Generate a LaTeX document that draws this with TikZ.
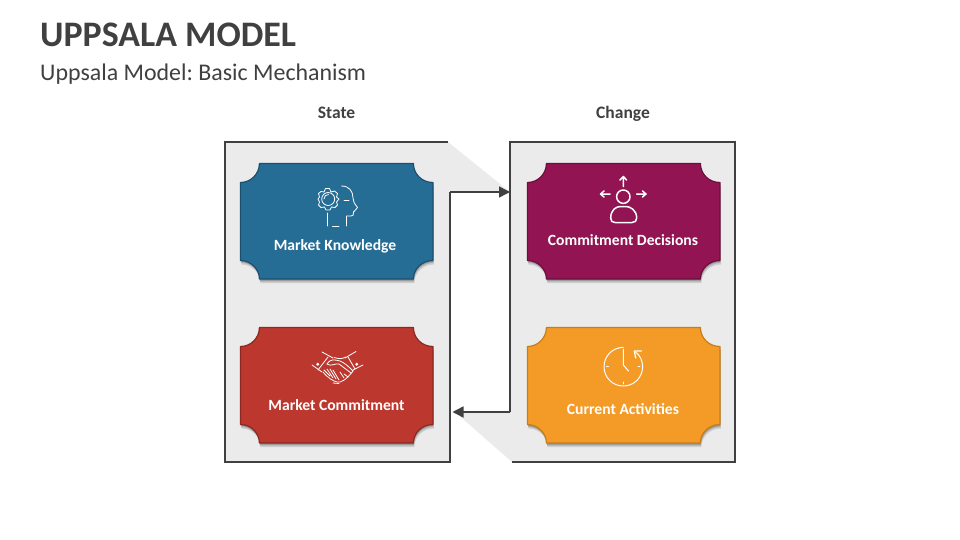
\documentclass[tikz,border=0pt]{standalone}
\usepackage{fontspec}
\setmainfont{Carlito}
\usetikzlibrary{arrows.meta}
\definecolor{ink}{HTML}{404040}
\definecolor{panelbg}{HTML}{EBEBEB}
\definecolor{cblue}{HTML}{266D96}
\definecolor{cbluedk}{HTML}{1C506F}
\definecolor{cred}{HTML}{BC372E}
\definecolor{creddk}{HTML}{8C2922}
\definecolor{cpurple}{HTML}{921453}
\definecolor{cpurpledk}{HTML}{6C0F3D}
\definecolor{corange}{HTML}{F39B26}
\definecolor{corangedk}{HTML}{C87D17}
\tikzset{
  x=1pt,y=-1pt,
  panelline/.style={draw=ink,line width=1.5pt},
  flow/.style={panelline,-{Triangle[length=11pt,width=11pt]}},
  head/.style={text=ink,font=\bfseries\fontsize{17.5}{20}\selectfont,anchor=base,inner sep=0},
  cardtext/.style={text=white,font=\bfseries\fontsize{15.6}{18}\selectfont,anchor=base,inner sep=0},
  icon/.style={draw=white,line width=0.8pt,line cap=round,line join=round},
  iconbold/.style={draw=white,line width=1.5pt,line cap=round,line join=round},
}
\newcommand{\cardpath}{(19,0) -- (173,0) .. controls (173,10.5) and (181.5,19) .. (192.5,19) -- (192.5,97) .. controls (181.5,97) and (173,105.5) .. (173,115.5) -- (19,115.5) .. controls (19,105.5) and (10.5,97) .. (0,97) -- (0,19) .. controls (10.5,19) and (19,10.5) .. (19,0) -- cycle}
\newcommand{\card}[4]{%
  \begin{scope}[shift={(#1,#2)}]
    \fill[black,opacity=.12] [shift={(1,4)}] \cardpath;
    \fill[black,opacity=.14] [shift={(0.6,2.5)}] \cardpath;
    \fill[black,opacity=.16] [shift={(0.3,1.5)}] \cardpath;
    \draw[fill=#3,draw=#4,line width=1.2pt,line join=round] \cardpath;
  \end{scope}}
\begin{document}
\frenchspacing
\begin{tikzpicture}
\useasboundingbox (0,0) rectangle (960,540);
\fill[white] (0,0) rectangle (960,540);
\node[anchor=west,text=ink,font=\bfseries\fontsize{35.9}{40}\selectfont,inner sep=0] (title) at (40,35) {UPPSALA MODEL};
\node[anchor=west,text=ink,font=\fontsize{23.9}{26}\selectfont,inner sep=0] (subtitle) at (40,74.5) {Uppsala Model: Basic Mechanism};
\node[head] (hstate) at (336.5,118.6) {State};
\node[head] (hchange) at (623,118.6) {Change};
% panels
\fill[panelbg] (225,142) -- (448,142) -- (510,192) -- (450,192) -- (450,462) -- (225,462) -- cycle;
\fill[panelbg] (510,142) -- (735,142) -- (735,462) -- (512,462) -- (455,412) -- (510,412) -- cycle;
\coordinate (stateout) at (450,192);
\coordinate (changein) at (510,192);
\coordinate (changeout) at (510,412);
\coordinate (statein) at (452.5,412);
\draw[panelline,line join=miter] (448,142) -- (225,142) -- (225,462) -- (450,462) -- (stateout);
\draw[panelline] (512,462) -- (735,462) -- (735,142) -- (510,142) -- (changeout);
\draw[flow] (stateout) -- (changein);
\draw[flow] (changeout) -- (statein);
% cards
\card{240.4}{163.5}{cblue}{cbluedk}
\card{240.4}{327.5}{cred}{creddk}
\card{527.4}{163.5}{cpurple}{cpurpledk}
\card{527.4}{327.5}{corange}{corangedk}
\node[cardtext] (mk) at (335,250) {Market Knowledge};
\node[cardtext] (mc) at (336.5,410) {Market Commitment};
\node[cardtext] (cd) at (623,245) {Commitment Decisions};
\node[cardtext] (ca) at (623,414) {Current Activities};
% head + gear icon
\draw[icon] (341.5,186) .. controls (349,186) and (353,191) .. (353,198) .. controls (353,201) and (354,203) .. (357.5,207.5) .. controls (356,210) and (354,211) .. (353.5,212) .. controls (354,215) and (353,216) .. (351,216) -- (346.5,216) -- (346.5,226);
\draw[icon] (327,213) -- (327,226);
\draw[icon] (332.5,226) -- (339,226);
\draw[icon] (344,200) -- (349,200);
\draw[icon] (318,199) -- (319.5,197) -- (318.5,193.5) -- (321,191.5) -- (324,192) -- (325.5,188.5) -- (329.5,188.5) -- (331,192) -- (334.5,191) -- (337.5,193.5) -- (336.5,197) -- (339,199) -- (336.5,202) -- (337.5,205) -- (335,207.5) -- (331.5,207) -- (330,210) -- (326,210) -- (324.5,207) -- (321,207.5) -- (318.5,205) -- (319.5,202) -- cycle;
\draw[icon] (328.2,199) circle (6.5);
\draw[icon] (324,199) .. controls (324,196) and (326,194.5) .. (328.5,194.5);
% handshake icon
\draw[icon] (322,352) -- (333,358);
\draw[icon] (312,365) -- (322,372);
\draw[icon] (328,357) -- (318,370);
\draw[icon] (356,351.5) -- (345,358);
\draw[icon] (363,365) -- (353,370);
\draw[icon] (348,357) -- (355,369);
\draw[icon] (334,357.5) .. controls (339,359) and (342,359) .. (346,357);
\draw[icon] (327,364) .. controls (331,358) and (335,360) .. (340,361) .. controls (345,363) and (349,367) .. (353,371);
\draw[icon] (327,364) .. controls (331,367) and (335,363) .. (339,364) -- (351,373);
\draw[icon] (323,372) .. controls (328,378) and (333,381) .. (337,382) .. controls (341,383) and (346,380) .. (353,371);
\draw[icon] (324,370) -- (330,376) (327,369) -- (333,378) (330,369) -- (336,379) (333,370) -- (339,380) (340,372) -- (344,378) (344,374) -- (348,377);
\draw[icon] (333,383) -- (339,383.5);
\fill[white] (317.7,364.3) circle (1.6) (356.7,364.3) circle (1.6);
% person icon
\draw[iconbold] (623.3,196.7) circle (6.7);
\draw[iconbold] (615,222.5) -- (632,222.5) .. controls (635,222.5) and (636.7,221) .. (636.7,218) .. controls (636.7,210) and (630,206.5) .. (626,206.5) -- (620.5,206.5) .. controls (616,206.5) and (610.7,210) .. (610.7,218) .. controls (610.7,221) and (612,222.5) .. (615,222.5) -- cycle;
\draw[iconbold] (623.3,186.5) -- (623.3,177) (620,180) -- (623.3,176.5) -- (626.6,180);
\draw[iconbold] (610,194) -- (601,194) (604,191) -- (600.5,194) -- (604,197);
\draw[iconbold] (636.7,194) -- (645.5,194) (642.5,191) -- (646,194) -- (642.5,197);
% clock icon
\draw[icon,line width=1pt] (623.3,347.4) .. controls (612.6,347.4) and (604,356) .. (604,366.7) .. controls (604,377.4) and (612.6,386) .. (623.3,386) .. controls (634,386) and (642.6,377.4) .. (642.6,366.7) .. controls (642.6,360.5) and (640,355.5) .. (635.5,352);
\draw[icon,line width=1.2pt] (641.5,351) -- (634.3,351) -- (635.7,358);
\draw[icon,line width=1pt] (623.3,349) -- (623.3,365) -- (628.5,371);
\draw[icon] (623.3,382) -- (623.3,384) (606.5,366.7) -- (608.5,366.7) (638,366.7) -- (640,366.7);
\end{tikzpicture}
\end{document}
